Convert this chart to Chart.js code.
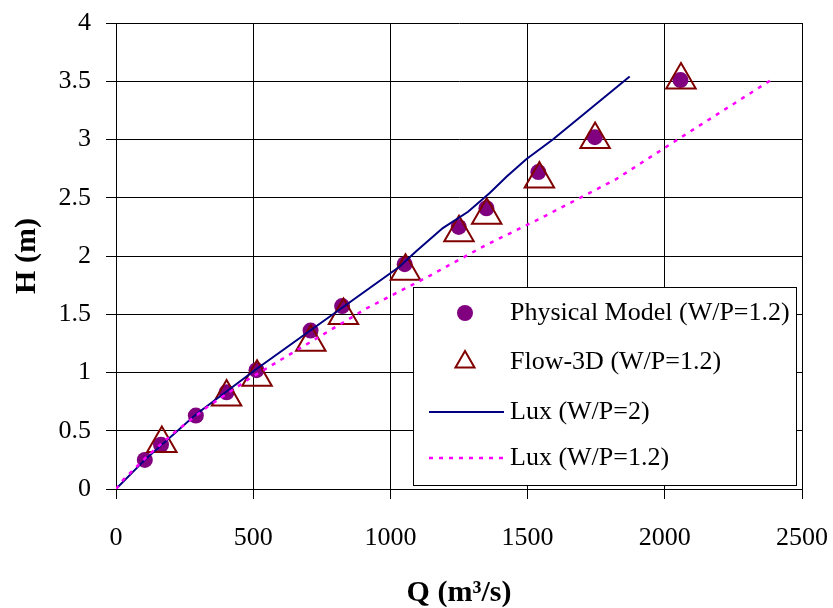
<!DOCTYPE html>
<html>
<head>
<meta charset="utf-8">
<script src="https://cdn.jsdelivr.net/npm/chart.js@4"></script>
<style>
  html, body { margin: 0; padding: 0; background: #fff; }
  #wrap { width: 833px; height: 608px; }
</style>
</head>
<body>
<div id="wrap"><canvas id="chart" width="833" height="608"></canvas></div>
<script>
// Stage-discharge: physical model vs Flow-3D vs Lux curves
const FONT = "'Liberation Serif', 'Times New Roman', serif";

// measured points
const physQ = [105, 164, 291, 403, 512, 709, 824, 1052, 1249, 1350, 1539, 1745, 2057];
const physH = [0.25, 0.38, 0.63, 0.83, 1.02, 1.36, 1.57, 1.93, 2.25, 2.41, 2.72, 3.02, 3.51];

const flowQ = [167, 403, 514, 710, 829, 1055, 1250, 1351, 1543, 1746, 2059];
const flowH = [0.39, 0.79, 0.96, 1.26, 1.49, 1.87, 2.20, 2.35, 2.66, 3.00, 3.51];

// Lux curves
const lux2Q = [0, 105, 291, 512, 1034, 1094, 1191, 1283, 1362, 1423, 1495, 1592, 1872];
const lux2H = [0, 0.25, 0.64, 1.03, 1.91, 2.04, 2.24, 2.38, 2.54, 2.68, 2.83, 3.00, 3.54];

const lux12Q = [0, 27, 118, 215, 330, 488, 913, 1143, 1345, 1544, 1774, 1823, 2047, 2387];
const lux12H = [0, 0.08, 0.29, 0.49, 0.70, 0.95, 1.55, 1.83, 2.09, 2.32, 2.60, 2.66, 3.00, 3.51];

const xTicks = [0, 500, 1000, 1500, 2000, 2500];
const yTicks = [0, 0.5, 1, 1.5, 2, 2.5, 3, 3.5, 4];

const labels = ["Physical Model (W/P=1.2)", "Flow-3D (W/P=1.2)", "Lux (W/P=2)", "Lux (W/P=1.2)"];

const pts = (xs, ys) => xs.map((x, i) => ({ x, y: ys[i] }));

// legend box drawn on top of the plot, like the original
const boxLegend = {
  id: 'boxLegend',
  afterDraw(chart) {
    const ctx = chart.ctx;
    const L = 413, T = 287, R = 796, B = 485;
    ctx.save();
    ctx.fillStyle = '#fff';
    ctx.fillRect(L, T, R - L, B - T);
    ctx.strokeStyle = '#000';
    ctx.lineWidth = 1;
    ctx.strokeRect(L + 0.5, T + 0.5, R - L, B - T);

    const rows = [313, 362, 412, 458];
    const sx = 465;
    // circle
    ctx.fillStyle = '#800080';
    ctx.beginPath(); ctx.arc(sx, rows[0], 8, 0, Math.PI * 2); ctx.fill();
    // triangle
    ctx.strokeStyle = '#800000'; ctx.lineWidth = 2;
    const r = 11;
    ctx.beginPath();
    ctx.moveTo(sx, rows[1] - r);
    ctx.lineTo(sx + r * Math.sin(2 * Math.PI / 3), rows[1] + r / 2);
    ctx.lineTo(sx - r * Math.sin(2 * Math.PI / 3), rows[1] + r / 2);
    ctx.closePath(); ctx.stroke();
    // lines
    ctx.strokeStyle = '#000080'; ctx.lineWidth = 2;
    ctx.beginPath(); ctx.moveTo(429, rows[2]); ctx.lineTo(504, rows[2]); ctx.stroke();
    ctx.strokeStyle = '#ff00ff'; ctx.lineWidth = 2.5; ctx.setLineDash([4, 6]);
    ctx.beginPath(); ctx.moveTo(429, rows[3]); ctx.lineTo(504, rows[3]); ctx.stroke();
    ctx.setLineDash([]);

    ctx.fillStyle = '#000';
    ctx.font = '26px ' + FONT;
    ctx.textBaseline = 'middle';
    ctx.textAlign = 'left';
    labels.forEach((t, i) => ctx.fillText(t, 510, rows[i]));
    ctx.restore();
  }
};

const noPad = s => { s.paddingLeft = 0; s.paddingRight = 0; s.paddingTop = 0; s.paddingBottom = 0; };

new Chart(document.getElementById('chart'), {
  type: 'scatter',
  data: {
    datasets: [
      { label: labels[0], data: pts(physQ, physH), order: 4,
        pointStyle: 'circle', pointRadius: 8, pointBorderWidth: 0,
        pointBackgroundColor: '#800080', backgroundColor: '#800080', showLine: false },
      { label: labels[1], data: pts(flowQ, flowH), order: 3,
        pointStyle: 'triangle', pointRadius: 17, pointBorderWidth: 2,
        pointBorderColor: '#800000', pointBackgroundColor: 'rgba(0,0,0,0)', showLine: false },
      { label: labels[2], data: pts(lux2Q, lux2H), order: 2, showLine: true,
        borderColor: '#000080', borderWidth: 2, pointRadius: 0, tension: 0 },
      { label: labels[3], data: pts(lux12Q, lux12H), order: 1, showLine: true,
        borderColor: '#ff00ff', borderWidth: 2.5, borderDash: [4, 6], pointRadius: 0, tension: 0 }
    ]
  },
  options: {
    responsive: false,
    animation: false,
    layout: { padding: { left: 0, right: 31, top: 23, bottom: 0 } },
    plugins: { legend: { display: false }, tooltip: { enabled: false } },
    scales: {
      x: {
        type: 'linear', min: 0, max: 2500,
        afterFit: s => { s.height = 119; noPad(s); },
        afterBuildTicks: s => { s.ticks = xTicks.map(v => ({ value: v })); },
        grid: { color: '#000', lineWidth: 1, tickLength: 10, tickColor: '#000' },
        border: { color: '#000', width: 1 },
        ticks: { color: '#000', padding: 24, maxRotation: 0, font: { family: FONT, size: 26 },
          callback: v => String(v) },
        title: { display: true, text: 'Q (m³/s)', color: '#000',
          font: { family: FONT, size: 30, weight: 'bold', lineHeight: 1 }, padding: { top: 0, bottom: 0 } }
      },
      y: {
        type: 'linear', min: 0, max: 4,
        afterFit: s => { s.width = 116; noPad(s); },
        afterBuildTicks: s => { s.ticks = yTicks.map(v => ({ value: v })); },
        grid: { color: '#000', lineWidth: 1, tickLength: 10, tickColor: '#000' },
        border: { color: '#000', width: 1 },
        ticks: { color: '#000', padding: 15, font: { family: FONT, size: 26 },
          callback: v => String(v) },
        title: { display: true, text: 'H (m)', color: '#000',
          font: { family: FONT, size: 30, weight: 'bold', lineHeight: 1 }, padding: { top: 12, bottom: 0 } }
      }
    }
  },
  plugins: [boxLegend]
});
</script>
</body>
</html>
